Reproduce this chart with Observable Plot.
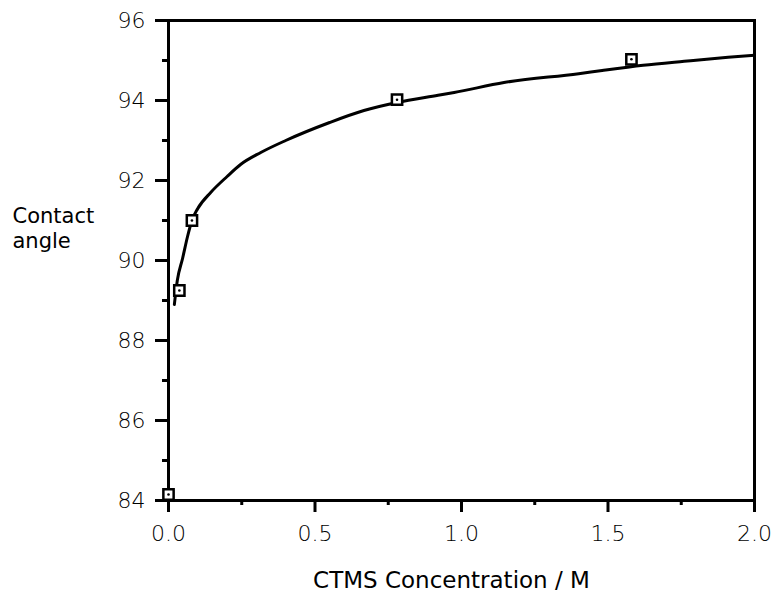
<!DOCTYPE html>
<html>
<head>
<meta charset="utf-8">
<script src="https://cdn.jsdelivr.net/npm/d3@7"></script>
<script src="https://cdn.jsdelivr.net/npm/@observablehq/plot@0.6"></script>
<style>
  html, body { margin: 0; padding: 0; background: #fff; }
  #chart svg { display: block; }
  #chart svg g[aria-label="x-axis tick label"] text,
  #chart svg g[aria-label="y-axis tick label"] text { font-weight: 300; fill: #000; }
</style>
</head>
<body>
<div id="chart"></div>
<script>
// Measured points
const concX = [0.0, 0.037, 0.08, 0.78, 1.58];
const angleY = [84.15, 89.25, 91.0, 94.02, 95.03];

// Fitted curve
const curveX = [0.020, 0.030, 0.048, 0.065, 0.080, 0.10, 0.144, 0.20, 0.246, 0.315, 0.40, 0.55, 0.667, 0.78, 0.92, 0.975, 1.145, 1.40, 1.48, 1.62, 1.76, 1.91, 2.0];
const curveY = [88.9, 89.5, 90.05, 90.6, 91.0, 91.3, 91.7, 92.1, 92.4, 92.7, 93.0, 93.45, 93.75, 93.95, 94.13, 94.2, 94.45, 94.67, 94.75, 94.88, 94.98, 95.08, 95.13];

// Ticks
const xMajor = [0, 0.5, 1.0, 1.5, 2.0];
const xMinor = [0.25, 0.75, 1.25, 1.75];
const yMajor = [84, 86, 88, 90, 92, 94, 96];
const yMinor = [85, 87, 89, 91, 93, 95];

const yLabel = "Contact\nangle";
const xLabel = "CTMS Concentration / M";

const points = concX.map((x, i) => ({x, y: angleY[i]}));
const curve = curveX.map((x, i) => ({x, y: curveY[i]}));

const chart = Plot.plot({
  width: 775,
  height: 606,
  marginLeft: 168,
  marginRight: 21,
  marginTop: 20,
  marginBottom: 106,
  style: {fontFamily: "'DejaVu Sans', sans-serif", fontSize: "22px", background: "#fff", color: "#000"},
  x: {domain: [0, 2], label: null},
  y: {domain: [84, 96], label: null},
  marks: [
    Plot.axisX({ticks: xMajor, tickSize: 12, tickPadding: 13, tickFormat: d3.format(".1f"), strokeWidth: 3, fontSize: 22, label: null}),
    Plot.axisX({ticks: xMinor, tickSize: 5, tickFormat: () => "", strokeWidth: 3, label: null}),
    Plot.axisY({ticks: yMajor, tickSize: 13, tickPadding: 10, tickFormat: d3.format("d"), strokeWidth: 3, fontSize: 22, label: null}),
    Plot.axisY({ticks: yMinor, tickSize: 6, tickFormat: () => "", strokeWidth: 3, label: null}),
    Plot.frame({stroke: "#000", strokeWidth: 3}),
    Plot.line(curve, {x: "x", y: "y", stroke: "#000", strokeWidth: 3, curve: "monotone-x"}),
    Plot.dot(points, {x: "x", y: "y", symbol: "square", r: 5.8, stroke: "#000", strokeWidth: 2.5, fill: "#fff"}),
    Plot.dot(points, {x: "x", y: "y", r: 1.3, fill: "#000", stroke: null}),
    Plot.text([yLabel], {frameAnchor: "left", dx: -156, dy: -33, textAnchor: "start", lineAnchor: "middle", lineHeight: 1.18, fontSize: 21, fill: "#000", text: d => d}),
    Plot.text([xLabel], {frameAnchor: "bottom", dx: -10, dy: 80, textAnchor: "middle", lineAnchor: "middle", fontSize: 23, fill: "#000", text: d => d})
  ]
});
document.getElementById("chart").appendChild(chart);
</script>
</body>
</html>
